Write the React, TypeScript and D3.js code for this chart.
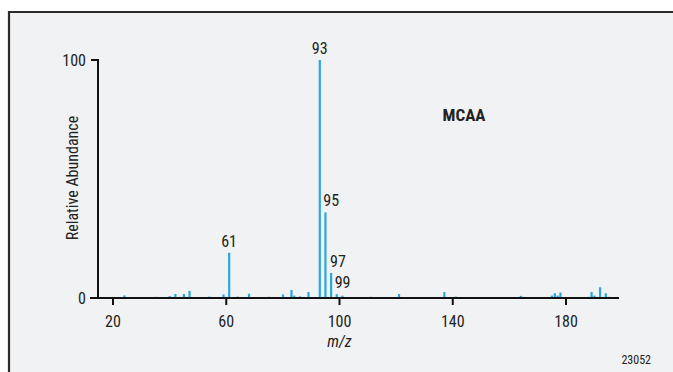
import React from "react";
import * as d3 from "d3";

const mz = [24, 35, 40, 42, 45, 47, 54, 59, 61, 64, 68, 75, 80, 83, 84, 86, 89, 93, 95, 97, 99, 101, 111, 121, 124, 137, 141, 155, 162, 164, 165, 166, 175, 176, 177, 178, 179, 188, 189, 190, 192, 194, 195];
const abundance = [1.1, 0.5, 0.8, 1.7, 1.7, 3, 0.6, 1.5, 19, 0.6, 1.8, 0.5, 1.5, 3.4, 1, 0.7, 2.5, 100, 36, 10.5, 1.6, 1, 0.5, 1.7, 0.4, 2.5, 0.6, 0.3, 0.3, 0.9, 0.5, 0.3, 1, 2, 1, 2.3, 0.4, 0.5, 2.5, 1, 4.5, 2, 0.5];
const peakLabels = [
  { m: 61, v: 19, text: "61", dx: 0, anchor: "middle" },
  { m: 93, v: 100, text: "93", dx: 0, anchor: "middle" },
  { m: 95, v: 36, text: "95", dx: -2, anchor: "start" },
  { m: 97, v: 10.5, text: "97", dx: -1, anchor: "start" },
  { m: 99, v: 1.6, text: "99", dx: -2, anchor: "start" },
];
const xTicks = [20, 60, 100, 140, 180];
const yTicks = [0, 100];

const FONT = "'Liberation Sans Narrow', 'Roboto Condensed', 'Liberation Sans', sans-serif";

export default function App() {
  const x = d3.scaleLinear().domain([20, 180]).range([113, 566]);
  const y = d3.scaleLinear().domain([0, 100]).range([298, 60]);
  const barColor = "#29a8e0";
  return (
    <svg width={673} height={372} style={{ position: "absolute", left: 0, top: 0 }} fontFamily={FONT}>
      <rect x={0} y={0} width={673} height={372} fill="#ffffff" />
      <rect x={9} y={12} width={700} height={400} fill="#f1f2f4" />
      <line x1={8} y1={12} x2={673} y2={12} stroke="#2b2b2b" strokeWidth={2.2} />
      <line x1={9} y1={11} x2={9} y2={372} stroke="#2b2b2b" strokeWidth={2.2} />
      {mz.map((m, i) => (
        <rect key={i} x={x(m) - 1} y={y(abundance[i])} width={2.2} height={y(0) - y(abundance[i])} fill={barColor} />
      ))}
      <line x1={98} y1={y(100)} x2={98} y2={y(0)} stroke="#111" strokeWidth={2} />
      <line x1={90} y1={y(0)} x2={619} y2={y(0)} stroke="#111" strokeWidth={2.2} />
      <line x1={91} y1={y(100)} x2={99} y2={y(100)} stroke="#111" strokeWidth={2} />
      {xTicks.map((t) => (
        <g key={t}>
          <line x1={x(t)} y1={y(0)} x2={x(t)} y2={y(0) + 7} stroke="#111" strokeWidth={2} />
          <text x={x(t)} y={y(0) + 29} textAnchor="middle" fontSize={16} fill="#222">{t}</text>
        </g>
      ))}
      {yTicks.map((t) => (
        <text key={t} x={86} y={y(t) + 5.5} textAnchor="end" fontSize={16} fill="#222">{t}</text>
      ))}
      <text transform={`translate(78,${(y(0) + y(100)) / 2 - 1}) rotate(-90)`} textAnchor="middle" fontSize={16} fill="#222">Relative Abundance</text>
      <text x={x(100)} y={347} textAnchor="middle" fontSize={16} fontStyle="italic" fill="#222">m/z</text>
      <text x={464} y={121} textAnchor="middle" fontSize={17} fontWeight="bold" fill="#222">MCAA</text>
      <text x={651} y={364} textAnchor="end" fontSize={12} fill="#222">23052</text>
      {peakLabels.map((p) => (
        <text key={p.text} x={x(p.m) + p.dx} y={y(p.v) - 6} textAnchor={p.anchor as any} fontSize={16} fill="#222">{p.text}</text>
      ))}
    </svg>
  );
}
